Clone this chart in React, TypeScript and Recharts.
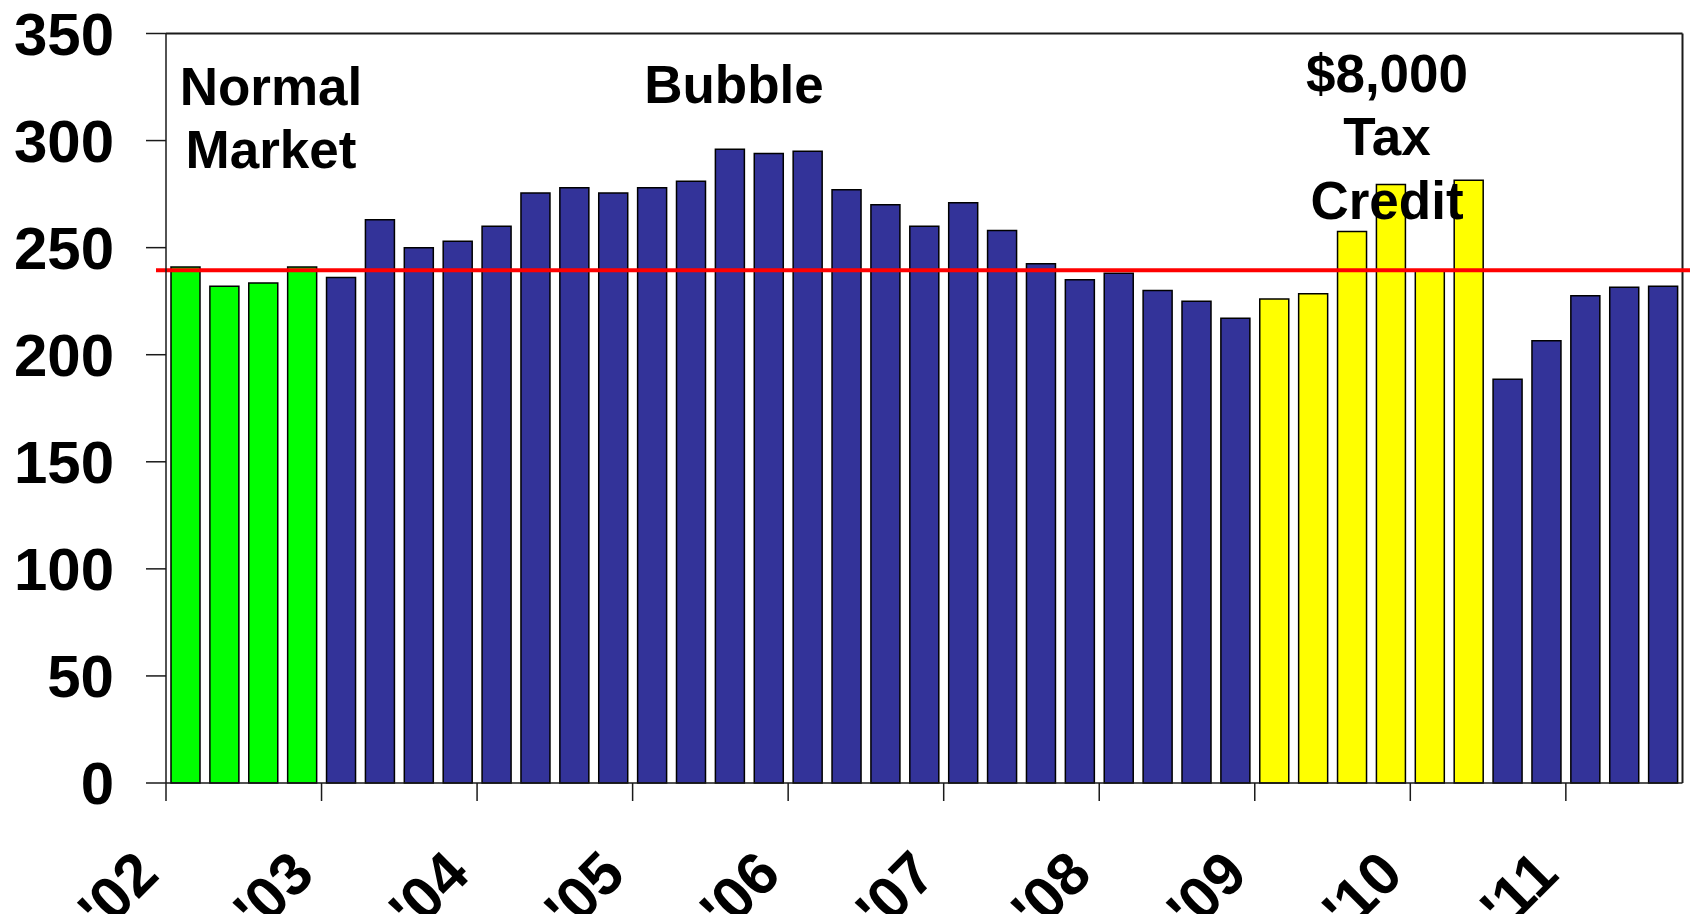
import React from 'react';
import { BarChart, Bar, XAxis, YAxis, Cell, ReferenceLine } from 'recharts';

// Quarterly series, 2002 Q1 through 2011 Q3
const quarters = [
  '02Q1', '02Q2', '02Q3', '02Q4',
  '03Q1', '03Q2', '03Q3', '03Q4',
  '04Q1', '04Q2', '04Q3', '04Q4',
  '05Q1', '05Q2', '05Q3', '05Q4',
  '06Q1', '06Q2', '06Q3', '06Q4',
  '07Q1', '07Q2', '07Q3', '07Q4',
  '08Q1', '08Q2', '08Q3', '08Q4',
  '09Q1', '09Q2', '09Q3', '09Q4',
  '10Q1', '10Q2', '10Q3', '10Q4',
  '11Q1', '11Q2', '11Q3',
];

const values = [
  241, 232, 233.5, 241,
  236, 263, 250, 253,
  260, 275.5, 278, 275.5,
  278, 281, 296, 294,
  295, 277, 270, 260,
  271, 258, 242.5, 235,
  238, 230, 225, 217,
  226, 228.5, 257.5, 279.5,
  239, 281.5, 188.5, 206.5,
  227.5, 231.5, 232,
];

const phases = [
  'normal', 'normal', 'normal', 'normal',
  'bubble', 'bubble', 'bubble', 'bubble',
  'bubble', 'bubble', 'bubble', 'bubble',
  'bubble', 'bubble', 'bubble', 'bubble',
  'bubble', 'bubble', 'bubble', 'bubble',
  'bubble', 'bubble', 'bubble', 'bubble',
  'bubble', 'bubble', 'bubble', 'bubble',
  'credit', 'credit', 'credit', 'credit',
  'credit', 'credit', 'after', 'after',
  'after', 'after', 'after',
];

const phaseColors: Record<string, string> = {
  normal: '#00FF00',
  bubble: '#333399',
  credit: '#FFFF00',
  after: '#333399',
};

// Year boundaries on a continuous quarter index axis (0 = start of 2002)
const yearTicks = [0, 4, 8, 12, 16, 20, 24, 28, 32, 36];
const yearLabels = ["'02", "'03", "'04", "'05", "'06", "'07", "'08", "'09", "'10", "'11"];
const quarterSpan: [number, number] = [0, 39];

const valueTicks = [0, 50, 100, 150, 200, 250, 300, 350];
const valueSpan: [number, number] = [0, 350];
const normalLevel = 239.5;

// each quarter sits in the middle of its slot on the continuous axis
const data = quarters.map((q, i) => ({ quarter: q, slot: i + 0.5, value: values[i], phase: phases[i] }));

const FONT = '"Liberation Sans", Arial, Helvetica, sans-serif';
const AXIS = '#1a1a1a';

function YearTick(props: any) {
  const { x, y, payload } = props;
  const idx = yearTicks.indexOf(payload.value);
  const lx = x - 5;
  const ly = y + 76;
  return (
    <text
      x={lx}
      y={ly}
      transform={`rotate(-45 ${lx} ${ly})`}
      textAnchor="end"
      fontFamily={FONT}
      fontSize={60}
      fontWeight="bold"
      fill="#000"
    >
      {yearLabels[idx]}
    </text>
  );
}

function AverageLine(p: any) {
  return <line x1={p.x1 - 10} x2={p.x2 + 10} y1={p.y1} y2={p.y2} stroke="#FF0000" strokeWidth={4} />;
}

const annStyle = {
  fontFamily: FONT,
  fontSize: 53,
  fontWeight: 'bold' as const,
  fill: '#000',
};

export default function App() {
  return (
    <div style={{ position: 'absolute', left: 0, top: 0, width: 1690, height: 914, background: '#fff' }}>
      <BarChart
        width={1690}
        height={914}
        data={data}
        margin={{ top: 33.5, right: 7.5, bottom: 0, left: 0 }}
        barCategoryGap={5}
      >
        <XAxis xAxisId="q" dataKey="quarter" type="category" hide height={0} />
        <XAxis
          xAxisId="yr"
          dataKey="slot"
          type="number"
          domain={quarterSpan}
          ticks={yearTicks}
          interval={0}
          allowDataOverflow
          height={131}
          tickSize={18}
          tickMargin={0}
          tick={<YearTick />}
          axisLine={{ stroke: AXIS, strokeWidth: 1.5 }}
          tickLine={{ stroke: AXIS, strokeWidth: 1.5 }}
        />
        <YAxis
          yAxisId="v"
          domain={valueSpan}
          ticks={valueTicks}
          interval={0}
          width={166}
          tickSize={20}
          tickMargin={32}
          tick={{ fontSize: 60, fontWeight: 'bold', fill: '#000', fontFamily: FONT }}
          axisLine={{ stroke: AXIS, strokeWidth: 1.5 }}
          tickLine={{ stroke: AXIS, strokeWidth: 1.5 }}
        />
        <Bar xAxisId="q" yAxisId="v" dataKey="value" isAnimationActive={false} stroke="#000" strokeWidth={1.5}>
          {data.map((d, i) => (
            <Cell key={i} fill={phaseColors[d.phase]} />
          ))}
        </Bar>
        {/* top and right edges of the plot frame */}
        <ReferenceLine xAxisId="yr" yAxisId="v" y={valueSpan[1]} stroke={AXIS} strokeWidth={2} />
        <ReferenceLine xAxisId="yr" yAxisId="v" x={quarterSpan[1]} stroke={AXIS} strokeWidth={2} />
        <ReferenceLine xAxisId="yr" yAxisId="v" y={normalLevel} shape={AverageLine} />
      </BarChart>
      <svg
        width={1690}
        height={914}
        style={{ position: 'absolute', left: 0, top: 0, pointerEvents: 'none' }}
      >
        <text x={271} y={105} textAnchor="middle" {...annStyle}>Normal</text>
        <text x={271} y={168} textAnchor="middle" {...annStyle}>Market</text>
        <text x={734} y={103} textAnchor="middle" {...annStyle}>Bubble</text>
        <text x={1387} y={92} textAnchor="middle" {...annStyle}>$8,000</text>
        <text x={1387} y={155} textAnchor="middle" {...annStyle}>Tax</text>
        <text x={1387} y={219} textAnchor="middle" {...annStyle}>Credit</text>
      </svg>
    </div>
  );
}
